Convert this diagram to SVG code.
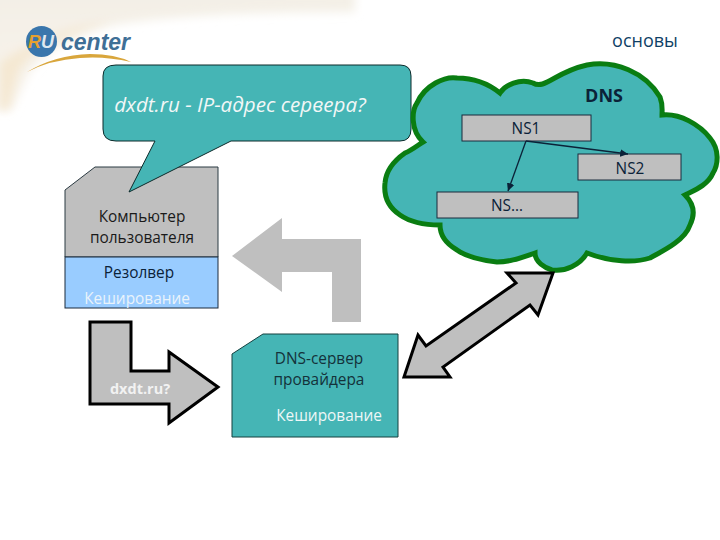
<svg xmlns="http://www.w3.org/2000/svg" width="720" height="540" viewBox="0 0 720 540">
<style>
.t{font-family:"Open Sans","Noto Sans","DejaVu Sans",sans-serif;font-size:15.4px;text-anchor:middle}
.d{fill:#0b2238}
</style>
<defs>
<linearGradient id="bg" x1="0" y1="0" x2="0" y2="1"><stop offset="0" stop-color="#f3efe6"/><stop offset="1" stop-color="#f8f4ec"/></linearGradient>
<filter id="b" x="-10%" y="-10%" width="120%" height="130%"><feGaussianBlur stdDeviation="5"/></filter>
<marker id="a" markerWidth="7" markerHeight="7" refX="6" refY="3" orient="auto"><path d="M0 0L6 3L0 6z" fill="#0b2238"/></marker>
</defs>
<rect width="720" height="540" fill="#fff"/>
<g id="background">
<path d="M-10 -10H355V12Q200 12 120 24Q60 36 30 72L12 110H-10Z" fill="url(#bg)" filter="url(#b)"/>
<path d="M0 62Q50 30 110 20Q75 32 50 44Q28 54 18 72L8 110H0Z" fill="#f5e8d2" filter="url(#b)"/>
</g>
<g id="logo">
<circle cx="41.5" cy="41.5" r="15.5" fill="#3a76ac"/>
<text x="41" y="48" font-family="Liberation Sans,sans-serif" font-size="18" font-weight="bold" font-style="italic" text-anchor="middle"><tspan fill="#e7a12e">R</tspan><tspan fill="#dfe8f0">U</tspan></text>
<text x="61" y="50" font-family="Liberation Sans,sans-serif" font-size="23" font-weight="bold" font-style="italic" fill="#3f6f96">center</text>
<path d="M27 72Q55 55 90 54Q115 54 131 62Q105 56 80 58Q50 60 27 72Z" fill="#d9a63c"/>
</g>
<text x="645" y="47" font-family="Open Sans,Noto Sans,sans-serif" font-size="18" text-anchor="middle" fill="#0f3f66">основы</text>
<g id="computer">
<path d="M65 190L95 167H218V257H65Z" fill="#bfbfbf" stroke="#2b3a42" stroke-width="1"/>
<rect x="65" y="257" width="153" height="51" fill="#99ccff" stroke="#1a2b3c" stroke-width="1"/>
<text class="t" x="142" y="222" fill="#1a1a1a">Компьютер</text>
<text class="t" x="142" y="243" fill="#1a1a1a">пользователя</text>
<text class="t" x="139" y="278" fill="#0b2238">Резолвер</text>
<text class="t" x="137" y="304" fill="#e9f3fb">Кеширование</text>
</g>
<g id="bubble">
<path d="M116 65H400Q411 65 411 76V129Q411 141 400 141H231L129 192L155 141H116Q103 141 103 129V76Q103 65 116 65Z" fill="#45b5b5" stroke="#0c2a2a" stroke-width="1"/>
<text x="240" y="112" font-family="Open Sans,Noto Sans,sans-serif" font-size="20.6" font-style="italic" text-anchor="middle" fill="#f2f7f7">dxdt.ru - IP-адрес сервера?</text>
</g>
<g id="cloud">
<path d="M423 142C410 130 412 110 417 103C425 85 445 76 457 78C475 78 490 85 500 93C505 85 520 78 533 83C545 90 555 72 587 65C615 60 645 72 660 97C663 105 662 110 662 115C680 113 700 125 710 138C720 150 718 165 713 173C708 185 695 190 685 195C695 205 695 215 690 225C685 240 665 250 650 258C635 263 610 262 587 253C580 265 565 272 552 270C545 268 535 262 535 253C520 258 510 262 497 262C480 260 465 256 457 250C445 243 440 235 440 225C425 225 410 222 400 215C385 205 384 192 385 183C386 170 395 160 405 153C412 150 418 145 423 142Z" fill="#45b5b5" stroke="#0a7d12" stroke-width="5"/>
<text x="604" y="102" font-family="Open Sans,Noto Sans,sans-serif" font-size="18" font-weight="bold" text-anchor="middle" fill="#0b2238">DNS</text>
</g>
<g id="ns1"><rect x="462" y="115" width="129" height="26" fill="#bfbfbf" stroke="#1a2b3c"/><text class="t d" x="526" y="134">NS1</text></g>
<g id="ns2"><rect x="578" y="154" width="103" height="26" fill="#bfbfbf" stroke="#1a2b3c"/><text class="t d" x="630" y="174">NS2</text></g>
<g id="nsdots"><rect x="437" y="192" width="141" height="26" fill="#bfbfbf" stroke="#1a2b3c"/><text class="t d" x="507" y="211">NS…</text></g>
<g id="connectors">
<path d="M526 141L508 191" fill="none" stroke="#0b2238" stroke-width="1.3" marker-end="url(#a)"/>
<path d="M526 141L628 154" fill="none" stroke="#0b2238" stroke-width="1.3" marker-end="url(#a)"/>
<path id="arrow-back" d="M332 322V272H282V292L232 256L282 218V239H361V322Z" fill="#bfbfbf"/>
<path id="arrow-query" d="M90 322H131V371H169V352L218 387L169 423V404H90Z" fill="#bfbfbf" stroke="#000" stroke-width="3"/>
<text x="140" y="394" font-family="Open Sans,Noto Sans,sans-serif" font-size="14.5" font-weight="bold" text-anchor="middle" fill="#f2f2f2">dxdt.ru?</text>
<path id="arrow-both" d="M404 377L418 335L426 346L516 283L507 273H553L538 315L530 305L443 367L450 377Z" fill="#bfbfbf" stroke="#000" stroke-width="3"/>
</g>
<g id="provider">
<path d="M232 354L263 334H398V437H232Z" fill="#45b5b5" stroke="#14403f" stroke-width="1"/>
<text class="t" x="319" y="364" fill="#14323a">DNS-сервер</text>
<text class="t" x="319" y="385" fill="#14323a">провайдера</text>
<text class="t" x="329" y="421" fill="#eef7f7">Кеширование</text>
</g>
</svg>
